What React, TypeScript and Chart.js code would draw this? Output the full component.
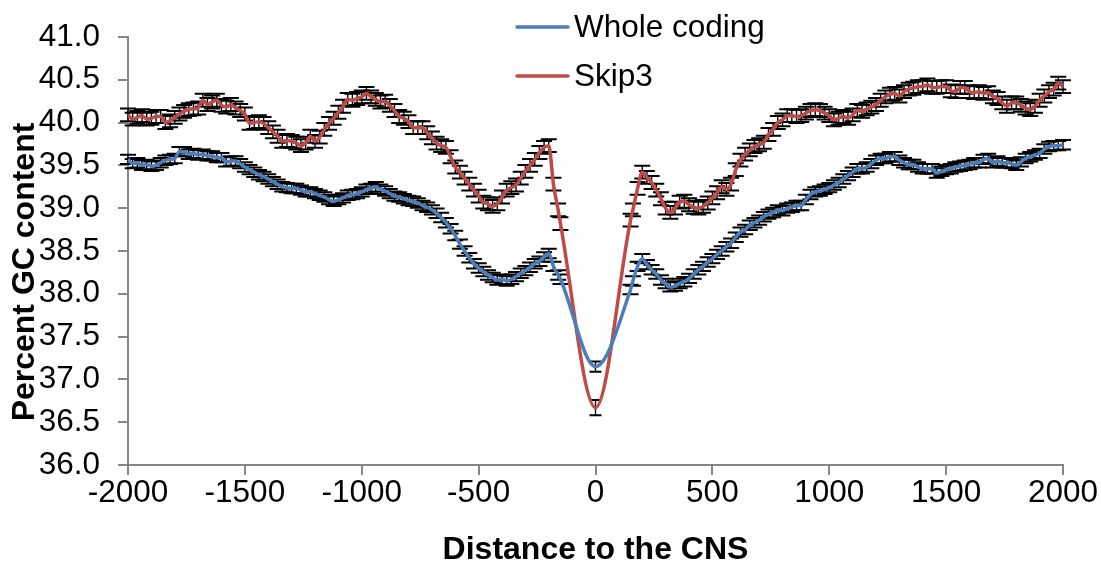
import { useEffect, useRef } from "react";
import { Chart, registerables } from "chart.js";

Chart.register(...registerables);

const FONT = '"Liberation Sans", Arial, sans-serif';

// Distance to the CNS (bp)
const distance = [
  -2000, -1980, -1960, -1940, -1920, -1900, -1880, -1860, -1840, -1820,
  -1800, -1780, -1760, -1740, -1720, -1700, -1680, -1660, -1640, -1620,
  -1600, -1580, -1560, -1540, -1520, -1500, -1480, -1460, -1440, -1420,
  -1400, -1380, -1360, -1340, -1320, -1300, -1280, -1260, -1240, -1220,
  -1200, -1180, -1160, -1140, -1120, -1100, -1080, -1060, -1040, -1020,
  -1000, -980, -960, -940, -920, -900, -880, -860, -840, -820,
  -800, -780, -760, -740, -720, -700, -680, -660, -640, -620,
  -600, -580, -560, -540, -520, -500, -480, -460, -440, -420,
  -400, -380, -360, -340, -320, -300, -280, -260, -240, -220,
  -200, -180, -160, -150,
  0,
  150, 160, 180, 200,
  220, 240, 260, 280, 300, 320, 340, 360, 380, 400,
  420, 440, 460, 480, 500, 520, 540, 560, 580, 600,
  620, 640, 660, 680, 700, 720, 740, 760, 780, 800,
  820, 840, 860, 880, 900, 920, 940, 960, 980, 1000,
  1020, 1040, 1060, 1080, 1100, 1120, 1140, 1160, 1180, 1200,
  1220, 1240, 1260, 1280, 1300, 1320, 1340, 1360, 1380, 1400,
  1420, 1440, 1460, 1480, 1500, 1520, 1540, 1560, 1580, 1600,
  1620, 1640, 1660, 1680, 1700, 1720, 1740, 1760, 1780, 1800,
  1820, 1840, 1860, 1880, 1900, 1920, 1940, 1960, 1980, 2000,
];

const wholeCoding = [
  39.57, 39.52, 39.53, 39.50, 39.51, 39.49, 39.50, 39.53, 39.56, 39.57,
  39.58, 39.66, 39.66, 39.63, 39.64, 39.62, 39.63, 39.61, 39.61, 39.59,
  39.59, 39.54, 39.55, 39.55, 39.52, 39.48, 39.45, 39.42, 39.39, 39.37,
  39.34, 39.31, 39.28, 39.25, 39.24, 39.23, 39.23, 39.21, 39.19, 39.19,
  39.17, 39.15, 39.13, 39.10, 39.08, 39.10, 39.12, 39.15, 39.16, 39.17,
  39.19, 39.22, 39.23, 39.25, 39.22, 39.20, 39.17, 39.14, 39.13, 39.11,
  39.09, 39.08, 39.06, 39.03, 39.01, 38.98, 38.94, 38.89, 38.83, 38.76,
  38.68, 38.58, 38.50, 38.42, 38.35, 38.30, 38.26, 38.22, 38.19, 38.16,
  38.17, 38.15, 38.17, 38.20, 38.24, 38.27, 38.31, 38.35, 38.38, 38.43,
  38.47, 38.32, 38.22, 38.17,
  37.15,
  38.05, 38.15, 38.32, 38.41,
  38.34, 38.28, 38.23, 38.16, 38.12, 38.08, 38.09, 38.12, 38.14, 38.18,
  38.23, 38.28, 38.32, 38.37, 38.41, 38.46, 38.50, 38.55, 38.59, 38.66,
  38.72, 38.75, 38.80, 38.83, 38.86, 38.90, 38.93, 38.95, 38.98, 38.97,
  39.00, 39.01, 39.03, 39.03, 39.10, 39.16, 39.19, 39.20, 39.22, 39.24,
  39.27, 39.30, 39.34, 39.38, 39.42, 39.46, 39.46, 39.48, 39.52, 39.56,
  39.58, 39.58, 39.60, 39.60, 39.56, 39.53, 39.51, 39.51, 39.48, 39.46,
  39.46, 39.46, 39.41, 39.43, 39.45, 39.46, 39.48, 39.49, 39.50, 39.51,
  39.53, 39.53, 39.57, 39.58, 39.53, 39.55, 39.53, 39.53, 39.52, 39.50,
  39.54, 39.58, 39.60, 39.62, 39.64, 39.69, 39.72, 39.73, 39.73, 39.74,
];

const skip3 = [
  40.09, 40.04, 40.06, 40.08, 40.04, 40.05, 40.07, 40.07, 40.00, 40.02,
  40.06, 40.10, 40.13, 40.15, 40.16, 40.17, 40.26, 40.21, 40.24, 40.26,
  40.20, 40.18, 40.21, 40.17, 40.14, 40.10, 39.99, 40.00, 40.01, 39.99,
  39.94, 39.89, 39.84, 39.78, 39.79, 39.78, 39.76, 39.73, 39.76, 39.84,
  39.78, 39.83, 39.92, 39.99, 40.05, 40.12, 40.19, 40.27, 40.26, 40.28,
  40.30, 40.34, 40.30, 40.27, 40.24, 40.25, 40.20, 40.14, 40.07, 40.05,
  40.01, 39.94, 39.94, 39.94, 39.88, 39.82, 39.76, 39.73, 39.71, 39.60,
  39.48, 39.42, 39.35, 39.28, 39.21, 39.14, 39.07, 39.05, 39.02, 39.05,
  39.13, 39.21, 39.24, 39.27, 39.35, 39.43, 39.50, 39.57, 39.65, 39.71,
  39.73, 39.28, 38.98, 38.82,
  36.67,
  38.86, 38.98, 39.23, 39.42,
  39.36, 39.30, 39.21, 39.11, 39.00, 38.95, 39.00, 39.07, 39.08, 39.04,
  39.01, 39.00, 39.02, 39.06, 39.12, 39.18, 39.25, 39.22, 39.28, 39.45,
  39.56, 39.63, 39.68, 39.72, 39.74, 39.77, 39.86, 39.92, 40.00, 40.03,
  40.08, 40.08, 40.07, 40.08, 40.11, 40.14, 40.15, 40.14, 40.11, 40.08,
  40.03, 40.05, 40.07, 40.05, 40.09, 40.14, 40.13, 40.16, 40.18, 40.21,
  40.26, 40.30, 40.33, 40.34, 40.31, 40.36, 40.39, 40.40, 40.42, 40.42,
  40.44, 40.41, 40.41, 40.42, 40.42, 40.37, 40.36, 40.41, 40.41, 40.36,
  40.35, 40.36, 40.34, 40.35, 40.30, 40.28, 40.23, 40.19, 40.23, 40.23,
  40.20, 40.17, 40.15, 40.19, 40.26, 40.31, 40.36, 40.39, 40.46, 40.42,
];

// Standard errors (estimated from the error-bar heights)
const wholeCodingSE = 0.055;
const skip3SE = 0.075;
const wholeCodingSEAtCNS = 0.06;
const skip3SEAtCNS = 0.09;

const yTicks = [36, 36.5, 37, 37.5, 38, 38.5, 39, 39.5, 40, 40.5, 41];
const xTicks = [-2000, -1500, -1000, -500, 0, 500, 1000, 1500, 2000];

const seriesNames = ["Whole coding", "Skip3"];
const seriesColors = ["#4A7EBB", "#BE4B48"];
const xTitle = "Distance to the CNS";
const yTitle = "Percent GC content";

const AXIS_COLOR = "#878787";

export default function App() {
  const canvasRef = useRef<HTMLCanvasElement | null>(null);

  useEffect(() => {
    const canvas = canvasRef.current;
    if (!canvas) return;

    const errorBarPlugin = {
      id: "errorBars",
      beforeDatasetsDraw(chart: any) {
        const ctx = chart.ctx;
        const xs = chart.scales.x;
        const ys = chart.scales.y;
        const sets: [number[], number, number][] = [
          [wholeCoding, wholeCodingSE, wholeCodingSEAtCNS],
          [skip3, skip3SE, skip3SEAtCNS],
        ];
        ctx.save();
        ctx.strokeStyle = "#000000";
        sets.forEach(([vals, se, seCNS]) => {
          vals.forEach((v, i) => {
            const isCNS = distance[i] === 0;
            const e = isCNS ? seCNS : se;
            const cap = isCNS ? 6 : 8;
            const x = xs.getPixelForValue(distance[i]);
            const y1 = ys.getPixelForValue(v + e);
            const y2 = ys.getPixelForValue(v - e);
            ctx.lineWidth = 1.4;
            ctx.beginPath();
            ctx.moveTo(x, y1);
            ctx.lineTo(x, y2);
            ctx.stroke();
            ctx.lineWidth = 2;
            ctx.beginPath();
            ctx.moveTo(x - cap, y1);
            ctx.lineTo(x + cap, y1);
            ctx.moveTo(x - cap, y2);
            ctx.lineTo(x + cap, y2);
            ctx.stroke();
          });
        });
        ctx.restore();
      },
    };

    const overlayPlugin = {
      id: "overlayText",
      afterDraw(chart: any) {
        const ctx = chart.ctx;
        ctx.save();
        // legend inside the plot
        const legendY = [27, 76];
        ctx.font = `31.5px ${FONT}`;
        ctx.textBaseline = "middle";
        ctx.textAlign = "left";
        seriesNames.forEach((name, i) => {
          ctx.strokeStyle = seriesColors[i];
          ctx.lineWidth = 3.5;
          ctx.lineCap = "round";
          ctx.beginPath();
          ctx.moveTo(517, legendY[i]);
          ctx.lineTo(568, legendY[i]);
          ctx.stroke();
          ctx.fillStyle = "#000000";
          ctx.fillText(name, 574, legendY[i] + 1);
        });
        // y axis title
        ctx.translate(25, 272);
        ctx.rotate(-Math.PI / 2);
        ctx.font = `bold 32px ${FONT}`;
        ctx.textAlign = "center";
        ctx.textBaseline = "middle";
        ctx.fillStyle = "#000000";
        ctx.fillText(yTitle, 0, 0);
        ctx.restore();
      },
    };

    const chart = new Chart(canvas, {
      type: "line",
      data: {
        datasets: [
          {
            label: seriesNames[0],
            data: distance.map((d, i) => ({ x: d, y: wholeCoding[i] })),
            borderColor: seriesColors[0],
            backgroundColor: seriesColors[0],
            borderWidth: 3.5,
            pointRadius: 0,
            cubicInterpolationMode: "monotone",
            fill: false,
          },
          {
            label: seriesNames[1],
            data: distance.map((d, i) => ({ x: d, y: skip3[i] })),
            borderColor: seriesColors[1],
            backgroundColor: seriesColors[1],
            borderWidth: 3.5,
            pointRadius: 0,
            cubicInterpolationMode: "monotone",
            fill: false,
          },
        ],
      },
      options: {
        responsive: false,
        animation: false,
        layout: { padding: { top: 31, right: 38, bottom: 0, left: 0 } },
        plugins: {
          legend: { display: false },
          tooltip: { enabled: false },
        },
        scales: {
          x: {
            type: "linear",
            min: -2000,
            max: 2000,
            afterBuildTicks: (s: any) => {
              s.ticks = xTicks.map((v) => ({ value: v }));
            },
            ticks: {
              color: "#000000",
              font: { family: FONT, size: 31.5 },
              padding: -1,
              maxRotation: 0,
              autoSkip: false,
              callback: (v: any) => String(v),
            },
            grid: {
              drawOnChartArea: false,
              drawTicks: true,
              tickLength: 10,
              color: AXIS_COLOR,
              lineWidth: 2,
            },
            border: { color: AXIS_COLOR, width: 2 },
            title: {
              display: true,
              text: xTitle,
              color: "#000000",
              font: { family: FONT, size: 32, weight: "bold" },
              padding: { top: 0, bottom: -7 },
            },
            afterFit: (s: any) => {
              s.height = 97;
              s.paddingLeft = 0;
              s.paddingRight = 0;
            },
          },
          y: {
            type: "linear",
            min: 36,
            max: 41,
            afterBuildTicks: (s: any) => {
              s.ticks = yTicks.map((v) => ({ value: v }));
            },
            ticks: {
              color: "#000000",
              font: { family: FONT, size: 31.5 },
              padding: 18,
              callback: (v: any) => Number(v).toFixed(1),
            },
            grid: {
              drawOnChartArea: false,
              drawTicks: true,
              tickLength: 10,
              color: AXIS_COLOR,
              lineWidth: 2,
            },
            border: { color: AXIS_COLOR, width: 2 },
            title: { display: false },
            afterFit: (s: any) => {
              s.width = 128;
            },
          },
        },
      } as any,
      plugins: [errorBarPlugin, overlayPlugin],
    });

    return () => chart.destroy();
  }, []);

  return (
    <div style={{ position: "absolute", left: 0, top: 0, width: 1101, height: 562, background: "#ffffff" }}>
      <canvas ref={canvasRef} width={1101} height={562} />
    </div>
  );
}
